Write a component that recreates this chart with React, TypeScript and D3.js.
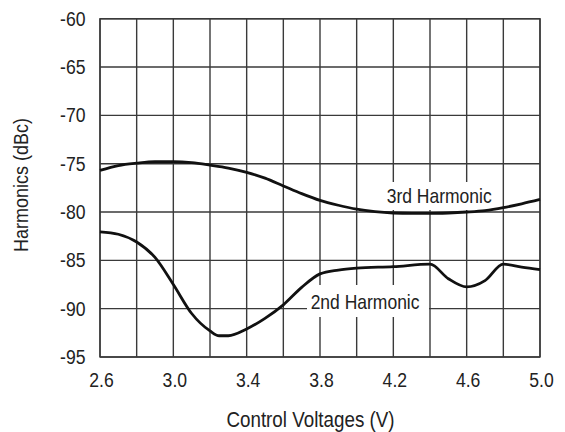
import React from "react";
import * as d3 from "d3";

const xTicks = [2.6, 3.0, 3.4, 3.8, 4.2, 4.6, 5.0];
const xGrid = [2.6, 2.8, 3.0, 3.2, 3.4, 3.6, 3.8, 4.0, 4.2, 4.4, 4.6, 4.8, 5.0];
const yTicks = [-60, -65, -70, -75, -80, -85, -90, -95];

const thirdX = [2.6, 2.7, 2.8, 2.9, 3.0, 3.1, 3.2, 3.3, 3.4, 3.5, 3.6, 3.7, 3.8, 3.9, 4.0, 4.1, 4.2, 4.3, 4.4, 4.5, 4.6, 4.7, 4.8, 4.9, 5.0];
const thirdY = [-75.7, -75.2, -74.95, -74.8, -74.8, -74.9, -75.15, -75.45, -75.9, -76.5, -77.3, -78.1, -78.8, -79.3, -79.7, -79.95, -80.1, -80.15, -80.15, -80.1, -80.0, -79.85, -79.55, -79.15, -78.7];

const secondX = [2.6, 2.7, 2.8, 2.9, 3.0, 3.1, 3.2, 3.25, 3.3, 3.4, 3.5, 3.6, 3.7, 3.8, 3.9, 4.0, 4.2, 4.4, 4.5, 4.6, 4.7, 4.8, 4.9, 5.0];
const secondY = [-82.05, -82.3, -83.1, -84.7, -87.5, -90.5, -92.3, -92.8, -92.8, -92.1, -91.0, -89.6, -87.8, -86.4, -86.0, -85.8, -85.65, -85.4, -86.9, -87.75, -87.1, -85.4, -85.7, -85.95];

const labels = [
  { text: "3rd Harmonic", x: 4.164, y: -79.1 },
  { text: "2nd Harmonic", x: 3.749, y: -89.99 },
];

const FONT = "'Liberation Sans', Arial, Helvetica, sans-serif";

function T({ x, y, size, sy = 1.13, anchor = "start", rotate = 0, children }: any) {
  return (
    <text
      transform={`translate(${x},${y}) rotate(${rotate}) scale(1,${sy})`}
      textAnchor={anchor}
      fontFamily={FONT}
      fontSize={size}
      fill="#222"
    >
      {children}
    </text>
  );
}

export default function App() {
  const W = 565, H = 432;
  const L = 100, R = 540, TOP = 18.7, B = 357;
  const x = d3.scaleLinear().domain([2.6, 5.0]).range([L, R]);
  const y = d3.scaleLinear().domain([-95, -60]).range([B, TOP]);
  const line = d3
    .line<[number, number]>()
    .x((d) => x(d[0]))
    .y((d) => y(d[1]))
    .curve(d3.curveMonotoneX);
  const third = thirdX.map((v, i) => [v, thirdY[i]] as [number, number]);
  const second = secondX.map((v, i) => [v, secondY[i]] as [number, number]);
  const gridColor = "#3a3a3a";
  const boxes = [
    { x0: 383, x1: 497, y0: 182, y1: 210 },
    { x0: 307, x1: 429, y0: 285, y1: 317 },
  ];

  return (
    <svg width={W} height={H} style={{ position: "absolute", left: 0, top: 0, background: "#fff" }}>
      <rect x={0} y={0} width={W} height={H} fill="#fff" />
      {xGrid.map((v) => (
        <line key={"gx" + v} x1={x(v)} x2={x(v)} y1={TOP} y2={B} stroke={gridColor} strokeWidth={1.4} />
      ))}
      {yTicks.map((v) => (
        <line key={"gy" + v} x1={L} x2={R} y1={y(v)} y2={y(v)} stroke={gridColor} strokeWidth={1.4} />
      ))}
      <rect x={L} y={TOP} width={R - L} height={B - TOP} fill="none" stroke={gridColor} strokeWidth={1.4} />
      {boxes.map((b, i) => (
        <rect key={"b" + i} x={b.x0} y={b.y0} width={b.x1 - b.x0} height={b.y1 - b.y0} fill="#fff" />
      ))}
      <path d={line(third) || ""} fill="none" stroke="#111" strokeWidth={2.8} />
      <path d={line(second) || ""} fill="none" stroke="#111" strokeWidth={2.8} />
      {labels.map((l) => (
        <T key={l.text} x={x(l.x)} y={y(l.y)} size={17.5}>
          {l.text}
        </T>
      ))}
      {yTicks.map((v) => (
        <T key={"ty" + v} x={85.5} y={y(v) + 7} size={17.6} anchor="end">
          {v}
        </T>
      ))}
      {xTicks.map((v) => (
        <T key={"tx" + v} x={x(v) + 1.5} y={387} size={17.6} anchor="middle">
          {v.toFixed(1)}
        </T>
      ))}
      <T x={310.5} y={426.5} size={18.8} sy={1.15} anchor="middle">
        Control Voltages (V)
      </T>
      <T x={28.3} y={185} size={18} sy={1.1} anchor="middle" rotate={-90}>
        Harmonics (dBc)
      </T>
    </svg>
  );
}
